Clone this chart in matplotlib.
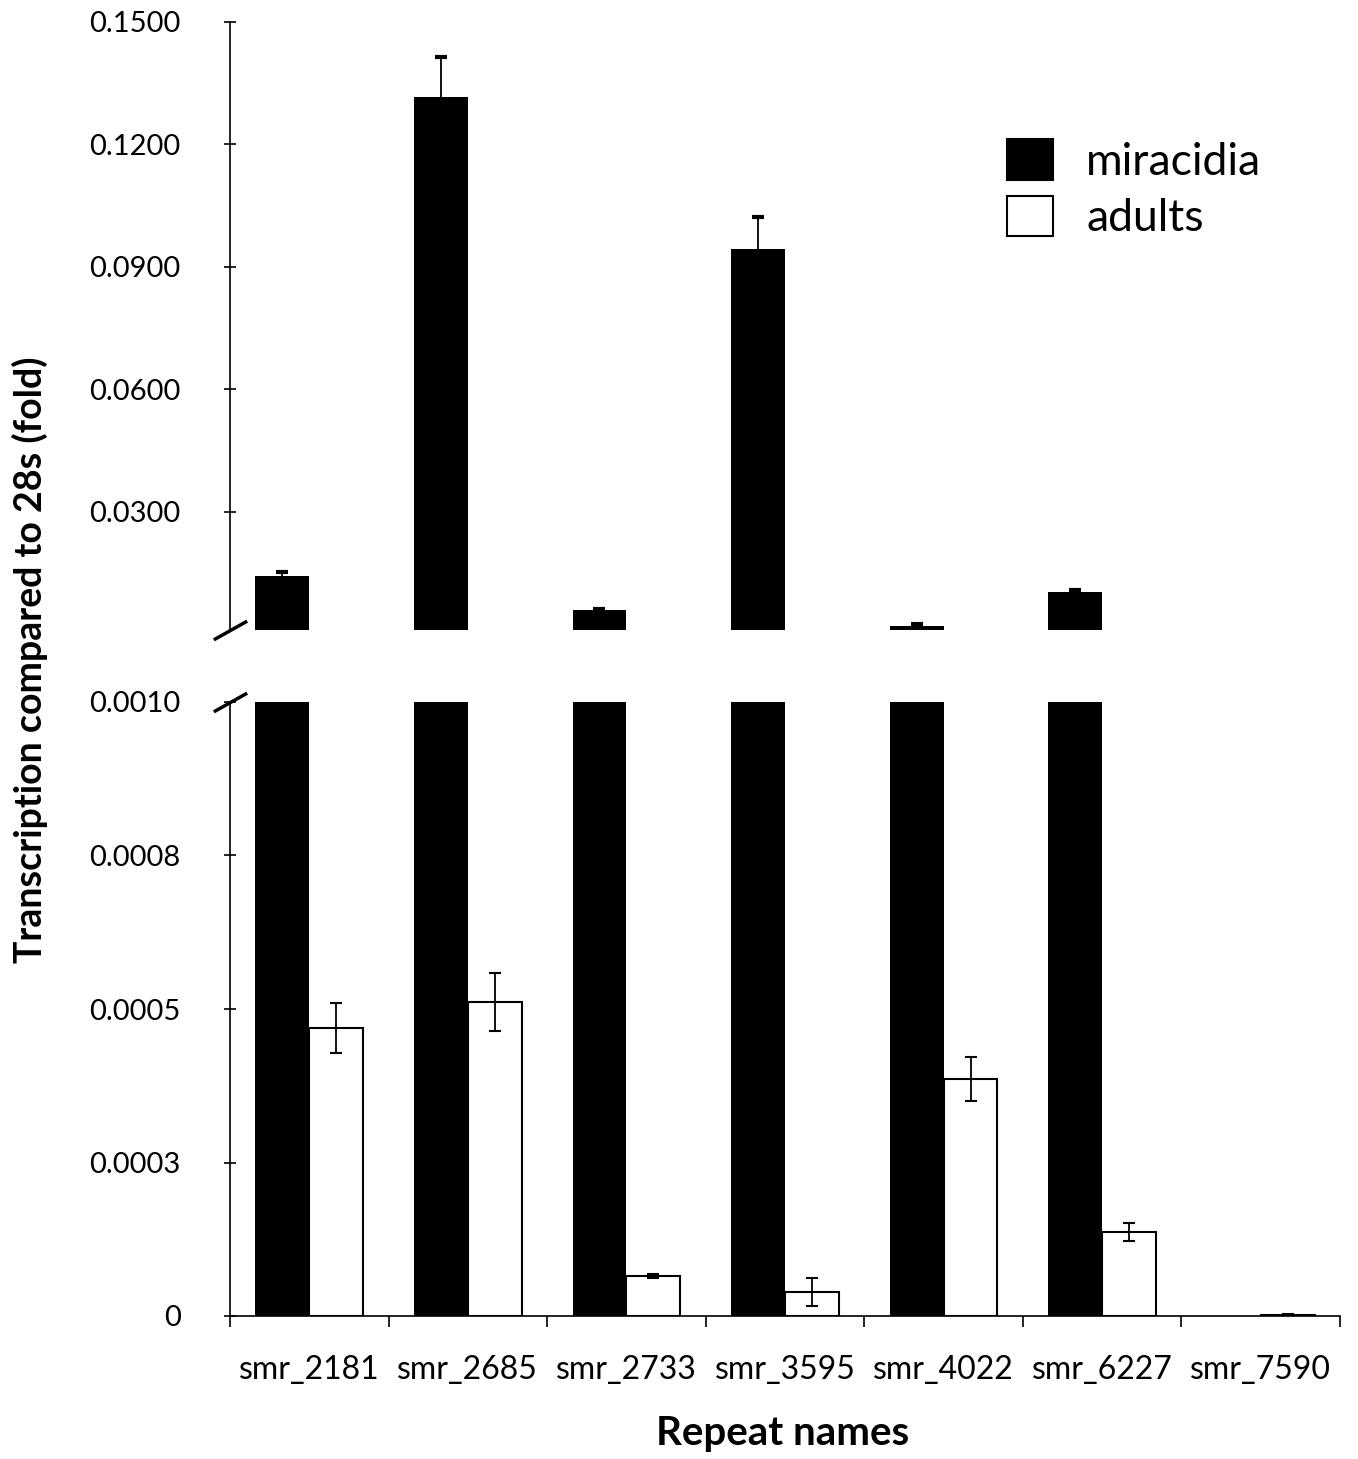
import matplotlib
matplotlib.use("Agg")
import matplotlib.pyplot as plt
from matplotlib.patches import Patch
import numpy as np

plt.rcParams["font.family"] = ["Lato", "DejaVu Sans"]

repeats = ["smr_2181", "smr_2685", "smr_2733", "smr_3595", "smr_4022", "smr_6227", "smr_7590"]
miracidia = [0.0143, 0.1316, 0.0058, 0.0944, 0.0021, 0.0102, 0.0]
miracidia_err = [0.0010, 0.0098, 0.0003, 0.0078, 0.0003, 0.0007, 0.0]
adults = [0.000469, 0.000511, 0.0000651, 0.0000391, 0.000386, 0.000137, 0.000002]
adults_err = [0.000041, 0.000047, 0.000004, 0.000023, 0.000036, 0.000015, 0.000001]

top_ticks = [0.03, 0.06, 0.09, 0.12, 0.15]
top_labels = ["0.0300", "0.0600", "0.0900", "0.1200", "0.1500"]
low_ticks = [0, 0.00025, 0.0005, 0.00075, 0.001]
low_labels = ["0", "0.0003", "0.0005", "0.0008", "0.0010"]

W, H = 1358, 1459
fig = plt.figure(figsize=(W / 100, H / 100), dpi=100)
left, right = 230 / W, 1340 / W
ax_top = fig.add_axes([left, 1 - 630 / H, right - left, (630 - 22) / H])
ax_low = fig.add_axes([left, 1 - 1316 / H, right - left, (1316 - 702) / H])

x = np.arange(len(repeats))
bw = 0.34
mir = np.array(miracidia)
mir_err = np.array(miracidia_err)
has_mir = mir > 0

for ax in (ax_top, ax_low):
    ax.bar(x[has_mir] - 0.17, mir[has_mir], bw, color="black", edgecolor="black",
           linewidth=0, zorder=2)
    ax.errorbar(x[has_mir] - 0.17, mir[has_mir], yerr=mir_err[has_mir], fmt="none",
                ecolor="black", elinewidth=1.3, capsize=4, capthick=3, zorder=3)
    ax.set_xlim(-0.5, len(repeats) - 0.5)
    for s in ("top", "right"):
        ax.spines[s].set_visible(False)
    ax.spines["left"].set_linewidth(1.2)
    ax.tick_params(axis="y", direction="inout", length=9, width=1.2, labelsize=21, pad=31)

# adults only reach the lower panel
ax_low.bar(x + 0.17, adults, bw, color="white", edgecolor="black", linewidth=1.5, zorder=2)
ax_low.errorbar(x + 0.17, adults, yerr=adults_err, fmt="none", ecolor="black",
                elinewidth=1.3, capsize=4, capthick=1.5, zorder=3)

ax_top.set_ylim(0.001, 0.15)
ax_top.set_yticks(top_ticks)
ax_top.set_yticklabels(top_labels)
ax_top.spines["bottom"].set_visible(False)
ax_top.set_xticks([])

ax_low.set_ylim(0, 0.001)
ax_low.set_yticks(low_ticks)
ax_low.set_yticklabels(low_labels)
ax_low.spines["bottom"].set_linewidth(1.2)
ax_low.set_xticks(x)
ax_low.set_xticklabels(repeats)
ax_low.set_xticks(np.arange(len(repeats) + 1) - 0.5, minor=True)
ax_low.tick_params(axis="x", which="major", length=0, labelsize=23, pad=28)
ax_low.tick_params(axis="x", which="minor", direction="out", length=8, width=1.2)

# break marks on the left axis
kw = dict(marker=[(-1, -0.56), (1, 0.56)], markersize=24, linestyle="none",
          color="black", mec="black", mew=2.5, clip_on=False)
ax_top.plot([0], [0], transform=ax_top.transAxes, **kw)
ax_low.plot([0], [1], transform=ax_low.transAxes, **kw)

fig.text(30 / W, 1 - 660 / H, "Transcription compared to 28s (fold)", rotation=90,
         fontsize=27, fontweight="bold", ha="center", va="center")
fig.text(783 / W, 1 - 1433 / H, "Repeat names", fontsize=29,
         fontweight="bold", ha="center", va="center")

handles = [Patch(facecolor="black", edgecolor="black", linewidth=1.5),
           Patch(facecolor="white", edgecolor="black", linewidth=1.5)]
ax_top.legend(handles, ["miracidia", "adults"], loc="upper left",
              bbox_to_anchor=(1007 / W, 1 - 139 / H), bbox_transform=fig.transFigure,
              frameon=False, fontsize=32, handlelength=1.03, handleheight=1.03,
              handletextpad=0.75, labelspacing=0.3, borderpad=0, borderaxespad=0)

fig.savefig("out.png", dpi=100)
